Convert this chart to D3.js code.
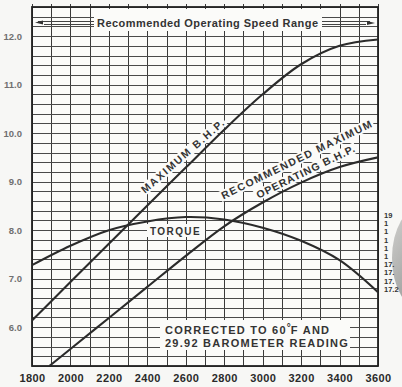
<!DOCTYPE html>
<html>
<head>
<meta charset="utf-8">
<style>
body { margin: 0; background: #f7f7f5; }
svg { display: block; }
text { font-family: "Liberation Sans", Arial, sans-serif; font-weight: bold; }
</style>
</head>
<body>
<script src="https://cdnjs.cloudflare.com/ajax/libs/d3/7.8.5/d3.min.js"></script>
<script>

// x axis: engine speed (rpm), y axis: hp / torque units
var rpmTicks = [1800, 2000, 2200, 2400, 2600, 2800, 3000, 3200, 3400, 3600];
var yTicks = [6, 7, 8, 9, 10, 11, 12];
var yTickLabels = ["6.0", "7.0", "8.0", "9.0", "10.0", "11.0", "12.0"];

var rpm = [1800, 2000, 2200, 2400, 2600, 2800, 3000, 3200, 3400, 3600];
var maxBhp = [6.14, 6.93, 7.72, 8.51, 9.29, 10.07, 10.8, 11.42, 11.8, 11.93];
var torque = [7.28, 7.68, 8.0, 8.18, 8.27, 8.22, 8.05, 7.78, 7.38, 6.72];

var recRpm = [1890, 2000, 2200, 2400, 2600, 2800, 3000, 3200, 3400, 3600];
var recBhp = [5.2, 5.55, 6.19, 6.83, 7.47, 8.08, 8.57, 8.98, 9.3, 9.5];

// scraps of the facing page showing at the right edge of the scan
var marginScraps = ["19", "1", "1", "1", "1", "1", "17.", "17.", "17.", "17.2"];

var width = 402,
    height = 387;

var x = d3.scaleLinear().domain([1800, 3600]).range([32, 378]);
var y = d3.scaleLinear().domain([5.2, 12.6]).range([366, 7]);

var svg = d3.select("body").append("svg")
    .attr("width", width)
    .attr("height", height);

var defs = svg.append("defs");
defs.append("clipPath").attr("id", "plot")
  .append("rect")
    .attr("x", x(1800)).attr("y", y(12.6))
    .attr("width", x(3600) - x(1800)).attr("height", y(5.2) - y(12.6));

var grad = defs.append("linearGradient").attr("id", "shade")
    .attr("x1", 0).attr("y1", 0).attr("x2", 1).attr("y2", 1);
grad.append("stop").attr("offset", 0).attr("stop-color", "#d2d2d0");
grad.append("stop").attr("offset", 1).attr("stop-color", "#7e7e7c");

var paper = "#fbfbf9";

// plot paper
svg.append("rect")
    .attr("x", x(1800)).attr("y", y(12.6))
    .attr("width", x(3600) - x(1800)).attr("height", y(5.2) - y(12.6))
    .attr("fill", paper);

// grid: every 100 rpm, every 0.2 units
var grid = svg.append("g").attr("stroke", "#3a3a3a").attr("stroke-width", 1);

grid.selectAll(".v")
  .data(d3.range(18, 37).map(function(d) { return d * 100; }))
  .enter().append("line")
    .attr("x1", function(d) { return Math.round(x(d)) + 0.5; })
    .attr("x2", function(d) { return Math.round(x(d)) + 0.5; })
    .attr("y1", y(12.6) - 3)
    .attr("y2", y(5.2));

grid.selectAll(".h")
  .data(d3.range(26, 64).map(function(d) { return d / 5; }))
  .enter().append("line")
    .attr("x1", x(1800))
    .attr("x2", x(3600))
    .attr("y1", function(d) { return Math.round(y(d)) + 0.5; })
    .attr("y2", function(d) { return Math.round(y(d)) + 0.5; })
    .attr("stroke", "#4a4a4a");

// white patches where the printed labels cut the grid
svg.append("rect").attr("x", 94).attr("y", y(12.6) + 2).attr("width", 228).attr("height", 22).attr("fill", paper);
svg.append("rect").attr("x", 147).attr("y", 224).attr("width", 58).attr("height", 13).attr("fill", paper);
svg.append("rect").attr("x", 160).attr("y", 320).attr("width", 190).attr("height", 30).attr("fill", paper);

// frame
svg.append("rect")
    .attr("x", x(1800)).attr("y", y(12.6))
    .attr("width", x(3600) - x(1800)).attr("height", y(5.2) - y(12.6))
    .attr("fill", "none")
    .attr("stroke", "#222")
    .attr("stroke-width", 1.8);

// slanted label backgrounds go under the curves
function slantedPatch(cx, cy, angle, len) {
  svg.append("rect")
      .attr("transform", "translate(" + cx + "," + cy + ") rotate(" + angle + ")")
      .attr("x", -len / 2 - 2).attr("y", -9)
      .attr("width", len + 4).attr("height", 11)
      .attr("fill", paper);
}
slantedPatch(185, 159, -41, 106);
slantedPatch(298, 163, -26, 166);
slantedPatch(307, 175, -26, 108);

// curves
var line = d3.line()
    .x(function(d) { return x(d[0]); })
    .y(function(d) { return y(d[1]); })
    .curve(d3.curveCatmullRom.alpha(0.5));

var curves = svg.append("g")
    .attr("clip-path", "url(#plot)")
    .attr("fill", "none")
    .attr("stroke", "#2b2b2b")
    .attr("stroke-width", 2.1);

curves.append("path").attr("d", line(d3.zip(rpm, maxBhp)));
curves.append("path").attr("d", line(d3.zip(rpm, torque)));
curves.append("path").attr("d", line(d3.zip(recRpm, recBhp)));

// axes
var yAxis = svg.append("g")
    .attr("transform", "translate(" + x(1800) + ",0)")
    .call(d3.axisLeft(y).tickValues(yTicks).tickSize(0).tickPadding(10)
      .tickFormat(function(d, i) { return yTickLabels[i]; }));
yAxis.select(".domain").remove();
yAxis.selectAll("text")
    .attr("fill", "#707070")
    .style("font-size", "9.5px")
    .style("font-family", '"Liberation Sans", Arial, sans-serif');

var xAxis = svg.append("g")
    .attr("transform", "translate(0," + y(5.2) + ")")
    .call(d3.axisBottom(x).tickValues(rpmTicks).tickSize(0).tickPadding(8)
      .tickFormat(d3.format("d")));
xAxis.select(".domain").remove();
xAxis.selectAll("text")
    .attr("fill", "#2a2a2a")
    .style("font-size", "11px")
    .style("letter-spacing", "0.4px")
    .style("font-family", '"Liberation Sans", Arial, sans-serif');

// Recommended operating speed range banner
var ink = "#333";
svg.append("text")
    .attr("x", 97).attr("y", 27)
    .attr("textLength", 221).attr("lengthAdjust", "spacing")
    .attr("fill", ink)
    .style("font-size", "11px")
    .text("Recommended Operating Speed Range");

var arrows = svg.append("g").attr("stroke", "#444").attr("stroke-width", 1);
arrows.append("line").attr("x1", 38).attr("x2", 94).attr("y1", 21.5).attr("y2", 21.5);
arrows.append("line").attr("x1", 44).attr("x2", 94).attr("y1", 24.5).attr("y2", 24.5);
arrows.append("line").attr("x1", 322).attr("x2", 370).attr("y1", 21.5).attr("y2", 21.5);
arrows.append("line").attr("x1", 322).attr("x2", 366).attr("y1", 24.5).attr("y2", 24.5);
svg.append("path").attr("d", "M35,22.5L43,20.5L43,24.5Z").attr("fill", "#333");
svg.append("path").attr("d", "M375,23L367,21L367,25Z").attr("fill", "#333");

// curve labels
function slanted(cx, cy, angle, len, size, str) {
  svg.append("text")
      .attr("transform", "translate(" + cx + "," + cy + ") rotate(" + angle + ")")
      .attr("text-anchor", "middle")
      .attr("textLength", len).attr("lengthAdjust", "spacing")
      .attr("fill", ink)
      .style("font-size", size + "px")
      .text(str);
}
slanted(185, 159, -41, 106, 10.5, "MAXIMUM B.H.P.");
slanted(298, 163, -26, 166, 10.5, "RECOMMENDED MAXIMUM");
slanted(307, 175, -26, 108, 10.5, "OPERATING B.H.P.");

svg.append("text")
    .attr("x", 150).attr("y", 234.5)
    .attr("fill", ink)
    .style("font-size", "10px")
    .style("letter-spacing", "1.4px")
    .text("TORQUE");

// note
var note = svg.append("g").attr("fill", ink).style("font-size", "11px").style("letter-spacing", "1.25px");
var n1 = note.append("text").attr("x", 165).attr("y", 333.5);
n1.append("tspan").text("CORRECTED TO 60");
n1.append("tspan").attr("baseline-shift", "3").style("font-size", "10px").style("letter-spacing", "0px").text("°");
n1.append("tspan").text("F AND");
note.append("text").attr("x", 165).attr("y", 346.5).text("29.92 BAROMETER READING");

// right margin of the scan
svg.append("ellipse")
    .attr("cx", 422).attr("cy", 258).attr("rx", 30).attr("ry", 52)
    .attr("fill", "url(#shade)");

svg.append("g")
    .attr("fill", "#333")
    .style("font-size", "7.5px")
  .selectAll("text")
  .data(marginScraps)
  .enter().append("text")
    .attr("x", 384)
    .attr("y", function(d, i) { return 218 + i * 8.2; })
    .text(function(d) { return d; });

</script>
</body>
</html>
